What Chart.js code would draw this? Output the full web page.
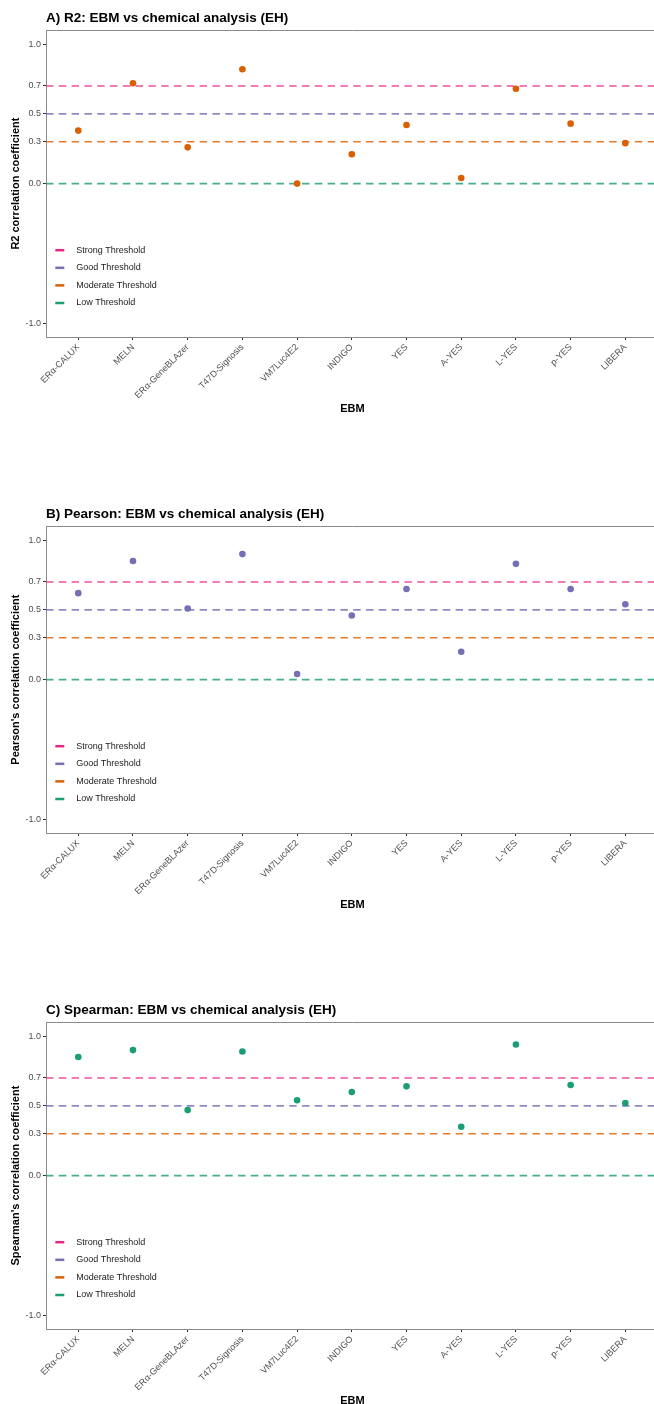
<!DOCTYPE html>
<html>
<head>
<meta charset="utf-8">
<script src="https://cdn.jsdelivr.net/npm/chart.js@4/dist/chart.umd.min.js"></script>
<style>
  html, body { margin: 0; padding: 0; background: #ffffff; }
  body { width: 654px; height: 1404px; position: relative; overflow: hidden; }
  .panel { position: absolute; left: 0; width: 662px; height: 417px; }
</style>
</head>
<body>
<div class="panel" style="top:0px"><canvas id="chartR2"></canvas></div>
<div class="panel" style="top:496px"><canvas id="chartPearson"></canvas></div>
<div class="panel" style="top:992px"><canvas id="chartSpearman"></canvas></div>
<script>
// Effect-based methods (EBM) on the x axis
const categories = ['ERα-CALUX', 'MELN', 'ERα-GeneBLAzer', 'T47D-Signosis', 'VM7Luc4E2',
                    'INDIGO', 'YES', 'A-YES', 'L-YES', 'p-YES', 'LIBERA'];

// Correlation with chemical analysis (EH), one value per EBM
const r2Values       = [0.38, 0.72, 0.26, 0.82, 0.00, 0.21, 0.42, 0.04, 0.68, 0.43, 0.29];
const pearsonValues  = [0.62, 0.85, 0.51, 0.90, 0.04, 0.46, 0.65, 0.20, 0.83, 0.65, 0.54];
const spearmanValues = [0.85, 0.90, 0.47, 0.89, 0.54, 0.60, 0.64, 0.35, 0.94, 0.65, 0.52];

// Reference thresholds
const thresholdNames  = ['Strong Threshold', 'Good Threshold', 'Moderate Threshold', 'Low Threshold'];
const thresholdValues = [0.7, 0.5, 0.3, 0.0];
const thresholdColors = ['#e7298a', '#7570b3', '#d95f02', '#1b9e77'];

// Tick labels shown on the y axis
const yTickValues = [-1.0, 0.0, 0.3, 0.5, 0.7, 1.0];

const FONT = '"Liberation Sans", Arial, Helvetica, sans-serif';

function withAlpha(hex, a) {
  const n = parseInt(hex.slice(1), 16);
  return `rgba(${(n >> 16) & 255}, ${(n >> 8) & 255}, ${n & 255}, ${a})`;
}

// Dashed threshold lines, the top edge of the panel and the inner legend
const thresholdPlugin = {
  id: 'thresholds',
  beforeDatasetsDraw(chart) {
    const { ctx, chartArea, scales } = chart;
    ctx.save();
    ctx.lineWidth = 1.6;
    ctx.setLineDash([7.5, 5.3]);
    thresholdValues.forEach((v, i) => {
      const y = scales.y.getPixelForValue(v);
      ctx.strokeStyle = withAlpha(thresholdColors[i], 0.82);
      ctx.beginPath();
      ctx.moveTo(chartArea.left, y);
      ctx.lineTo(chartArea.right, y);
      ctx.stroke();
    });
    ctx.restore();
  },
  afterDraw(chart) {
    const { ctx, chartArea } = chart;
    ctx.save();
    ctx.strokeStyle = '#8a8a8a';
    ctx.lineWidth = 1;
    ctx.beginPath();
    ctx.moveTo(chartArea.left, Math.round(chartArea.top) + 0.5);
    ctx.lineTo(chartArea.right, Math.round(chartArea.top) + 0.5);
    ctx.stroke();

    // legend
    const x0 = chartArea.left + 9.3;
    const y0 = chartArea.top + 220;
    const step = 17.6;
    ctx.font = `9px ${FONT}`;
    ctx.textBaseline = 'middle';
    ctx.textAlign = 'left';
    thresholdNames.forEach((name, i) => {
      const y = y0 + i * step;
      ctx.strokeStyle = thresholdColors[i];
      ctx.lineWidth = 2.5;
      ctx.beginPath();
      ctx.moveTo(x0, y);
      ctx.lineTo(x0 + 9, y);
      ctx.stroke();
      ctx.fillStyle = '#1a1a1a';
      ctx.fillText(name, x0 + 21, y);
    });
    ctx.restore();
  }
};

function makeChart(canvasId, title, yTitle, values, color) {
  const points = values.map((v, i) => ({ x: i, y: v }));
  return new Chart(document.getElementById(canvasId), {
    type: 'scatter',
    data: {
      datasets: [{
        data: points,
        backgroundColor: color,
        borderColor: color,
        borderWidth: 0,
        pointRadius: 3.3,
        pointHoverRadius: 3.3
      }]
    },
    options: {
      responsive: true,
      maintainAspectRatio: false,
      animation: false,
      devicePixelRatio: 1,
      layout: { padding: 0 },
      plugins: {
        legend: { display: false },
        tooltip: { enabled: false },
        title: {
          display: true,
          text: title,
          align: 'start',
          fullSize: false,
          color: '#000000',
          font: { family: FONT, size: 13.5, weight: 'bold' },
          padding: { top: 10, bottom: 4 }
        }
      },
      scales: {
        x: {
          type: 'linear',
          min: -0.59,
          max: 10.61,
          afterBuildTicks(scale) {
            scale.ticks = categories.map((c, i) => ({ value: i }));
          },
          afterFit(scale) { scale.height = 80; },
          ticks: {
            callback: (v) => categories[v],
            autoSkip: false,
            minRotation: 45,
            maxRotation: 45,
            padding: 2,
            color: '#4d4d4d',
            font: { family: FONT, size: 9 }
          },
          grid: {
            display: true,
            drawOnChartArea: false,
            drawTicks: true,
            tickLength: 3,
            color: '#333333'
          },
          border: { display: true, color: '#8a8a8a', width: 1 },
          title: {
            display: true,
            text: 'EBM',
            color: '#000000',
            font: { family: FONT, size: 11, weight: 'bold' },
            padding: { top: 0, bottom: 1.5 }
          }
        },
        y: {
          type: 'linear',
          min: -1.1,
          max: 1.1,
          afterBuildTicks(scale) {
            scale.ticks = yTickValues.map(v => ({ value: v }));
          },
          afterFit(scale) { scale.width = 46; },
          ticks: {
            callback: (v) => Number(v).toFixed(1),
            padding: 2,
            color: '#4d4d4d',
            font: { family: FONT, size: 9 }
          },
          grid: {
            display: true,
            drawOnChartArea: false,
            drawTicks: true,
            tickLength: 3,
            color: '#333333'
          },
          border: { display: true, color: '#8a8a8a', width: 1 },
          title: {
            display: true,
            text: yTitle,
            color: '#000000',
            font: { family: FONT, size: 11, weight: 'bold' },
            padding: { top: 9.5, bottom: 0 }
          }
        }
      }
    },
    plugins: [thresholdPlugin]
  });
}

makeChart('chartR2', 'A) R2: EBM vs chemical analysis (EH)', 'R2 correlation coefficient',
          r2Values, '#d95f02');
makeChart('chartPearson', 'B) Pearson: EBM vs chemical analysis (EH)', "Pearson's correlation coefficient",
          pearsonValues, '#7570b3');
makeChart('chartSpearman', 'C) Spearman: EBM vs chemical analysis (EH)', "Spearman's correlation coefficient",
          spearmanValues, '#1b9e77');
</script>
</body>
</html>
